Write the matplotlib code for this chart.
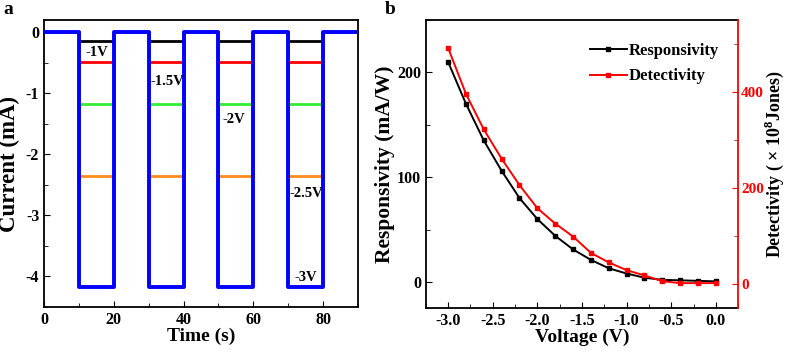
import numpy as np
import matplotlib
matplotlib.use("Agg")
import matplotlib.pyplot as plt
from matplotlib.ticker import MultipleLocator, FormatStrFormatter

plt.rcParams['font.family'] = ['Liberation Serif', 'DejaVu Serif']
plt.rcParams['font.weight'] = 'bold'
plt.rcParams['axes.labelweight'] = 'bold'
plt.rcParams['axes.unicode_minus'] = False
plt.rcParams['mathtext.fontset'] = 'custom'
plt.rcParams['mathtext.rm'] = 'Liberation Serif:bold'
plt.rcParams['mathtext.bf'] = 'Liberation Serif:bold'

# panel a: on/off switching at several biases
t_edges = [0, 10, 20, 30, 40, 50, 60, 70, 80, 90]
bias_labels = ['-1V', '-1.5V', '-2V', '-2.5V', '-3V']
on_current = [-0.14, -0.48, -1.18, -2.36, -4.17]
off_current = [0.0, 0.0, 0.0, 0.0, 0.0]
colors_a = ['black', 'red', '#33ee33', '#ff8c1a', 'blue']

# panel b: responsivity / detectivity vs voltage
voltage = [-3.0, -2.8, -2.6, -2.4, -2.2, -2.0, -1.8, -1.6, -1.4, -1.2,
           -1.0, -0.8, -0.6, -0.4, -0.2, 0.0]
responsivity = [210, 170, 135, 106, 80, 60, 44, 31, 21, 13,
                8, 4, 2, 1.5, 1, 0.5]
detectivity = [492, 396, 322, 261, 206, 158, 126, 99, 65, 45,
               29, 18, 6, 2, 2, 2]

fig = plt.figure(figsize=(7.87, 3.57), dpi=100)
ax1 = fig.add_axes([0.0559, 0.14, 0.399, 0.804])
ax2 = fig.add_axes([0.541, 0.137, 0.397, 0.807])

# square waves
for lvl_on, lvl_off, c in zip(on_current, off_current, colors_a):
    xs, ys = [], []
    for i in range(len(t_edges) - 1):
        lvl = lvl_on if i % 2 == 1 else lvl_off
        xs += [t_edges[i], t_edges[i + 1]]
        ys += [lvl, lvl]
    lw = 2.8 if c == 'blue' else 2.0
    ax1.plot(xs, ys, color=c, lw=lw, zorder=3 if c == 'blue' else 2)

ann_pos = [(12, -0.34), (30.5, -0.80), (51.3, -1.43), (70.3, -2.64), (71.8, -4.02)]
for (x, y), s in zip(ann_pos, bias_labels):
    ax1.text(x, y, s, fontsize=10.5, fontweight='bold', va='center', ha='left')

ax1.set_xlim(0, 90)
ax1.set_ylim(-4.5, 0.2)
ax1.set_xticks([0, 20, 40, 60, 80])
ax1.xaxis.set_minor_locator(MultipleLocator(10))
ax1.yaxis.set_major_locator(MultipleLocator(1))
ax1.yaxis.set_minor_locator(MultipleLocator(0.5))
ax1.set_xlabel('Time (s)', fontsize=14, labelpad=0)
ax1.set_ylabel('Current (mA)', fontsize=16.5)
ax1.yaxis.set_label_coords(-0.075, 0.5)
ax1.text(-0.13, 1.065, 'a', transform=ax1.transAxes, fontsize=14,
         fontweight='bold', va='top')

# panel b
ax2.plot(voltage, responsivity, color='black', marker='s', ms=3.5, lw=1.4,
         label='Responsivity')
ax3 = ax2.twinx()
ax3.plot(voltage, detectivity, color='red', marker='s', ms=3.5, lw=1.4,
         label='Detectivity')
ax2.set_xlim(-3.25, 0.25)
ax2.set_ylim(-25, 250)
ax3.set_ylim(-50, 550)
ax2.xaxis.set_major_locator(MultipleLocator(0.5))
ax2.xaxis.set_minor_locator(MultipleLocator(0.25))
ax2.xaxis.set_major_formatter(FormatStrFormatter('%.1f'))
ax2.yaxis.set_major_locator(MultipleLocator(100))
ax2.yaxis.set_minor_locator(MultipleLocator(50))
ax3.set_yticks([0, 200, 400])
ax3.yaxis.set_minor_locator(MultipleLocator(100))
ax2.set_xlabel('Voltage (V)', fontsize=14, labelpad=0)
ax2.set_ylabel('Responsivity (mA/W)', fontsize=15.5)
ax2.yaxis.set_label_coords(-0.099, 0.5)
ax3.set_ylabel('Detectivity ( × 10$^{8}$Jones)', fontsize=13)
ax3.yaxis.set_label_coords(1.08, 0.5)
ax2.text(-0.13, 1.065, 'b', transform=ax2.transAxes, fontsize=14,
         fontweight='bold', va='top')

h1, l1 = ax2.get_legend_handles_labels()
h3, l3 = ax3.get_legend_handles_labels()
ax2.legend(h1 + h3, l1 + l3, loc='upper right', bbox_to_anchor=(0.975, 0.96),
           frameon=False, fontsize=12, handlelength=2.2, handletextpad=0.1,
           borderpad=0.2, labelspacing=0.55)

for ax in (ax1, ax2, ax3):
    ax.tick_params(which='both', direction='in', labelsize=11.5)
    ax.tick_params(which='major', length=4)
    ax.tick_params(which='minor', length=3)
    for sp in ax.spines.values():
        sp.set_linewidth(1.3)
    for lab in ax.get_xticklabels() + ax.get_yticklabels():
        lab.set_fontweight('bold')
ax3.spines['right'].set_color('red')
ax3.spines['left'].set_visible(False)
ax3.spines['top'].set_visible(False)
ax3.spines['bottom'].set_visible(False)
ax2.spines['right'].set_visible(False)
ax3.tick_params(axis='y', which='both', colors='red', pad=2, labelsize=11)

fig.savefig('out.png', dpi=100)
